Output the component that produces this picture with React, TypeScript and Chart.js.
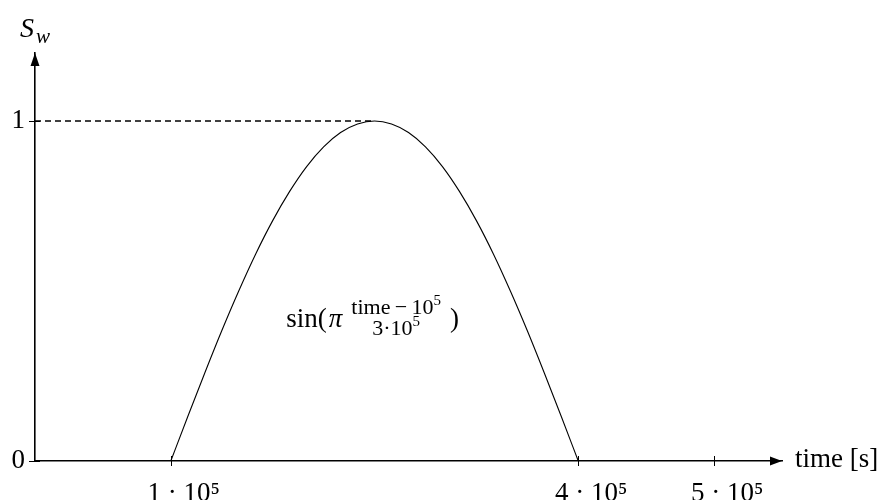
import React, { useEffect, useRef } from "react";
import { Chart, registerables } from "chart.js";

Chart.register(...registerables);

// ---- data ----
const TIME = [
  100000, 112500, 125000, 137500, 150000, 162500, 175000, 187500, 200000,
  212500, 225000, 237500, 250000, 262500, 275000, 287500, 300000, 312500,
  325000, 337500, 350000, 362500, 375000, 387500, 400000,
];
const SW = [
  0, 0.131, 0.259, 0.383, 0.5, 0.609, 0.707, 0.793, 0.866, 0.924, 0.966,
  0.991, 1, 0.991, 0.966, 0.924, 0.866, 0.793, 0.707, 0.609, 0.5, 0.383,
  0.259, 0.131, 0,
];
const GUIDE_TIME = [0, 250000];
const GUIDE_SW = [1, 1];
const X_TICKS = [100000, 400000, 500000];
const X_TICK_LABELS = ["1 · 10⁵", "4 · 10⁵", "5 · 10⁵"];
const Y_TICKS = [0, 1];
const Y_TICK_LABELS = ["0", "1"];
const X_TITLE = "time [s]";
const Y_TITLE_MAIN = "S";
const Y_TITLE_SUB = "w";
const FORMULA_AT = [185000, 0.393];

const FONT = '"Liberation Serif", "DejaVu Serif", serif';

const texPlugin = {
  id: "texAxes",
  afterDraw(chart: any) {
    const { ctx, chartArea, scales } = chart;
    const { left, right, top, bottom } = chartArea;
    const x = scales.x;
    const y = scales.y;
    ctx.save();
    ctx.strokeStyle = "#000";
    ctx.fillStyle = "#000";
    ctx.lineWidth = 1;
    // tick marks crossing the axes
    X_TICKS.forEach((v) => {
      const px = Math.round(x.getPixelForValue(v)) + 0.5;
      ctx.beginPath();
      ctx.moveTo(px, bottom - 5);
      ctx.lineTo(px, bottom + 5);
      ctx.stroke();
    });
    Y_TICKS.forEach((v) => {
      const py = Math.round(y.getPixelForValue(v)) + 0.5;
      ctx.beginPath();
      ctx.moveTo(left - 6, py);
      ctx.lineTo(left + 5, py);
      ctx.stroke();
    });
    // arrow heads
    ctx.beginPath();
    ctx.moveTo(right, bottom);
    ctx.lineTo(right - 12, bottom - 4.5);
    ctx.lineTo(right - 12, bottom + 4.5);
    ctx.closePath();
    ctx.fill();
    ctx.beginPath();
    ctx.moveTo(left, top);
    ctx.lineTo(left - 4.5, top + 13);
    ctx.lineTo(left + 4.5, top + 13);
    ctx.closePath();
    ctx.fill();

    // axis titles
    ctx.textBaseline = "alphabetic";
    ctx.textAlign = "left";
    ctx.font = `27px ${FONT}`;
    ctx.fillText(X_TITLE, right + 13, bottom + 6);
    ctx.font = `italic 28px ${FONT}`;
    ctx.fillText(Y_TITLE_MAIN, left - 15, top - 16);
    ctx.font = `italic 21px ${FONT}`;
    ctx.fillText(Y_TITLE_SUB, left + 1, top - 10);

    // formula annotation
    const fx0 = x.getPixelForValue(FORMULA_AT[0]);
    const base = y.getPixelForValue(FORMULA_AT[1]);
    ctx.font = `27px ${FONT}`;
    ctx.fillText("sin(", fx0, base);
    let cx = fx0 + ctx.measureText("sin(").width + 2;
    ctx.font = `italic 27px ${FONT}`;
    ctx.fillText("π", cx, base);
    cx += ctx.measureText("π").width + 8;
    const numMain = "time\u2009−\u200910";
    const denMain = "3·10";
    ctx.font = `22px ${FONT}`;
    const nmw = ctx.measureText(numMain).width;
    const dmw = ctx.measureText(denMain).width;
    ctx.font = `15px ${FONT}`;
    const supW = ctx.measureText("5").width;
    const nw = nmw + supW;
    const dw = dmw + supW;
    const fw = Math.max(nw, dw) + 2;
    const nx = cx + (fw - nw) / 2;
    const dx = cx + (fw - dw) / 2;
    ctx.font = `22px ${FONT}`;
    ctx.fillText(numMain, nx, base - 13);
    ctx.fillText(denMain, dx, base + 8);
    ctx.font = `15px ${FONT}`;
    ctx.fillText("5", nx + nmw, base - 22);
    ctx.fillText("5", dx + dmw, base - 1);
    cx += fw + 8;
    ctx.font = `27px ${FONT}`;
    ctx.fillText(")", cx, base);
    ctx.restore();
  },
};

export default function App() {
  const ref = useRef<HTMLCanvasElement | null>(null);
  useEffect(() => {
    if (!ref.current) return;
    const chart = new Chart(ref.current, {
      type: "line",
      data: {
        datasets: [
          {
            data: TIME.map((t, i) => ({ x: t, y: SW[i] })),
            borderColor: "#000",
            borderWidth: 1.1,
            pointRadius: 0,
            tension: 0.4,
            cubicInterpolationMode: "monotone",
          },
          {
            data: GUIDE_TIME.map((t, i) => ({ x: t, y: GUIDE_SW[i] })),
            borderColor: "#000",
            borderWidth: 1.3,
            borderDash: [6, 4],
            pointRadius: 0,
          },
        ],
      },
      options: {
        animation: false,
        responsive: false,
        maintainAspectRatio: false,
        layout: { padding: { top: 53, right: 98, left: 0, bottom: 0 } },
        plugins: { legend: { display: false }, tooltip: { enabled: false } },
        scales: {
          x: {
            type: "linear",
            min: 0,
            max: 550000,
            afterBuildTicks: (s: any) => {
              s.ticks = X_TICKS.map((v) => ({ value: v }));
            },
            afterFit: (s: any) => {
              s.height = 39;
            },
            grid: { display: false },
            border: { display: true, color: "#000", width: 1.6 },
            ticks: {
              color: "#000",
              font: { family: FONT, size: 27 },
              padding: 9,
              labelOffset: 13,
              maxRotation: 0,
              autoSkip: false,
              callback: (v: any) => {
                const i = X_TICKS.indexOf(Number(v));
                return i >= 0 ? X_TICK_LABELS[i] : "";
              },
            },
          },
          y: {
            type: "linear",
            min: 0,
            max: 1.2,
            afterBuildTicks: (s: any) => {
              s.ticks = Y_TICKS.map((v) => ({ value: v }));
            },
            afterFit: (s: any) => {
              s.width = 35;
            },
            grid: { display: false },
            border: { display: true, color: "#000", width: 1.6 },
            ticks: {
              color: "#000",
              font: { family: FONT, size: 27 },
              padding: 2,
              callback: (v: any) => {
                const i = Y_TICKS.indexOf(Number(v));
                return i >= 0 ? Y_TICK_LABELS[i] : "";
              },
            },
          },
        },
      } as any,
      plugins: [texPlugin],
    });
    return () => chart.destroy();
  }, []);
  return (
    <div style={{ position: "fixed", left: 0, top: 0, width: 880, height: 500, background: "#fff" }}>
      <canvas ref={ref} width={880} height={500} style={{ display: "block" }} />
    </div>
  );
}
